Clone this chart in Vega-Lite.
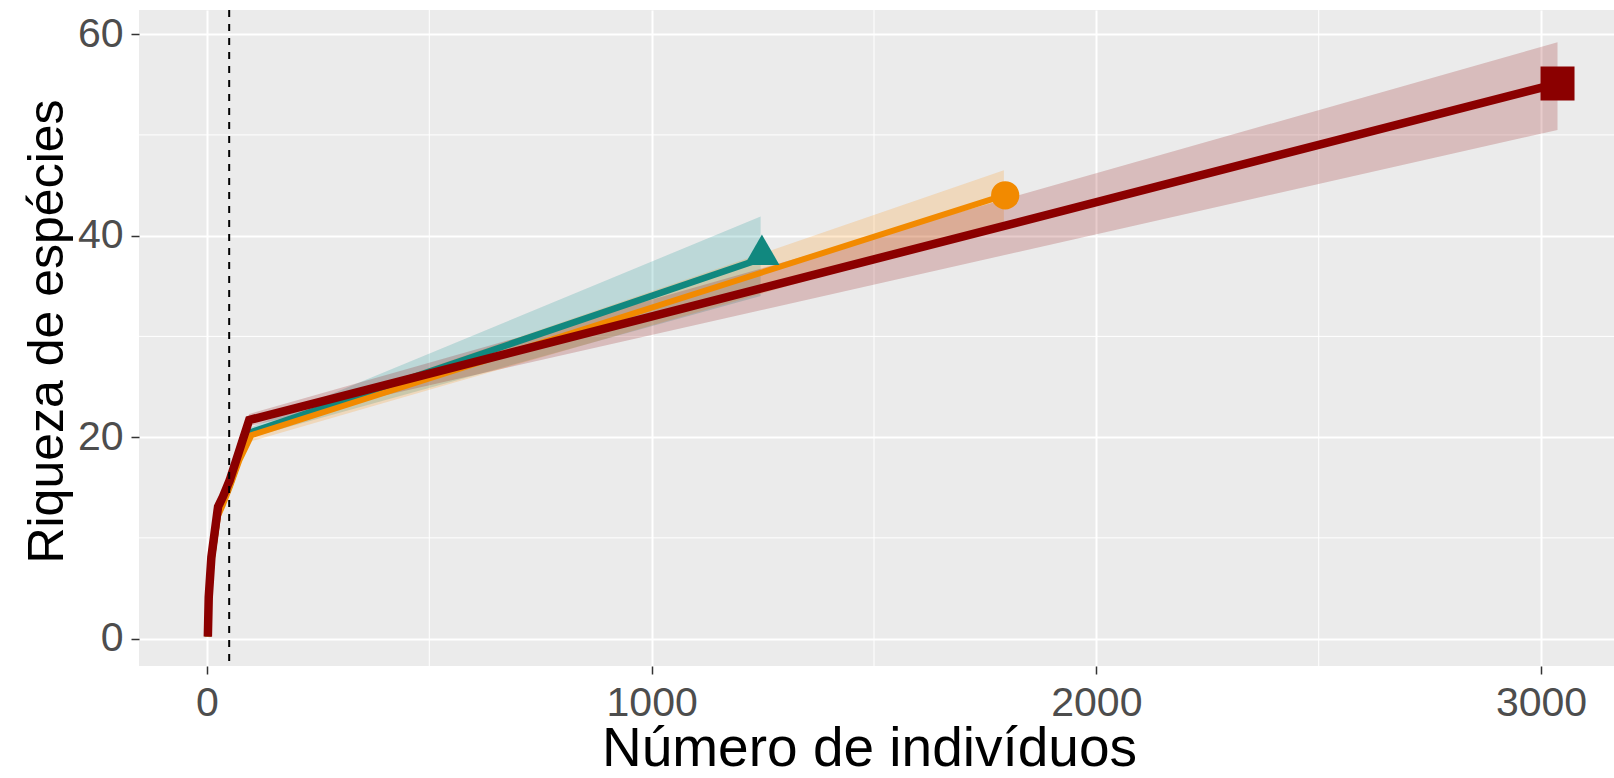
{
  "$schema": "https://vega.github.io/schema/vega-lite/v6.json",
  "width": 1475,
  "height": 656,
  "autosize": {"type": "none"},
  "padding": {"left": 139, "top": 10, "right": 0, "bottom": 112},
  "background": "white",
  "config": {
    "view": {"fill": "#EBEBEB", "stroke": null},
    "font": "Liberation Sans",
    "axis": {
      "domain": false, "grid": true, "gridColor": "white", "gridWidth": 2,
      "ticks": true, "tickColor": "#333333", "tickSize": 8, "tickWidth": 1.5,
      "labelFont": "Liberation Sans", "labelFontSize": 41, "labelColor": "#4D4D4D",
      "labelFlush": false, "labelOverlap": false,
      "titleFont": "Liberation Sans", "titleFontWeight": "normal", "titleColor": "black",
      "titleBaseline": "alphabetic", "titleAlign": "center"
    },
    "axisX": {"labelPadding": 9, "titleFontSize": 55, "titleX": 730, "titleY": 99, "format": "d"},
    "axisY": {"labelPadding": 8, "titleFontSize": 50, "titleX": -77, "titleY": 321, "titleAngle": 270, "format": "d"}
  },
  "datasets": {
    "curves": [
      {"s": "S1", "x": 2, "y": 0.2, "lo": 0.1, "hi": 0.3},
      {"s": "S1", "x": 4, "y": 4.0, "lo": 3.8, "hi": 4.2},
      {"s": "S1", "x": 10, "y": 7.8, "lo": 7.5, "hi": 8.1},
      {"s": "S1", "x": 25, "y": 12.5, "lo": 12.1, "hi": 12.9},
      {"s": "S1", "x": 36, "y": 13.6, "lo": 13.2, "hi": 14.0},
      {"s": "S1", "x": 51, "y": 15.2, "lo": 14.8, "hi": 15.6},
      {"s": "S1", "x": 73, "y": 18.0, "lo": 17.5, "hi": 18.5},
      {"s": "S1", "x": 100, "y": 20.5, "lo": 20.0, "hi": 21.0},
      {"s": "S1", "x": 1245, "y": 37.7, "lo": 34.0, "hi": 41.9},
      {"s": "S2", "x": 2, "y": 0.2, "lo": 0.1, "hi": 0.3},
      {"s": "S2", "x": 4, "y": 3.8, "lo": 3.6, "hi": 4.0},
      {"s": "S2", "x": 10, "y": 7.5, "lo": 7.2, "hi": 7.8},
      {"s": "S2", "x": 25, "y": 12.2, "lo": 11.8, "hi": 12.6},
      {"s": "S2", "x": 36, "y": 13.3, "lo": 12.9, "hi": 13.7},
      {"s": "S2", "x": 51, "y": 15.0, "lo": 14.6, "hi": 15.4},
      {"s": "S2", "x": 73, "y": 17.7, "lo": 17.2, "hi": 18.2},
      {"s": "S2", "x": 100, "y": 20.2, "lo": 19.6, "hi": 20.8},
      {"s": "S2", "x": 1792, "y": 44.0, "lo": 41.2, "hi": 46.5},
      {"s": "S3", "x": 2, "y": 0.2, "lo": 0.1, "hi": 0.3},
      {"s": "S3", "x": 4, "y": 4.1, "lo": 3.9, "hi": 4.3},
      {"s": "S3", "x": 10, "y": 8.1, "lo": 7.8, "hi": 8.4},
      {"s": "S3", "x": 25, "y": 13.1, "lo": 12.7, "hi": 13.5},
      {"s": "S3", "x": 36, "y": 14.1, "lo": 13.7, "hi": 14.5},
      {"s": "S3", "x": 51, "y": 15.7, "lo": 15.3, "hi": 16.1},
      {"s": "S3", "x": 73, "y": 18.7, "lo": 18.2, "hi": 19.2},
      {"s": "S3", "x": 95, "y": 21.7, "lo": 21.1, "hi": 22.3},
      {"s": "S3", "x": 3037, "y": 55.1, "lo": 50.5, "hi": 59.2}
    ],
    "obs": [
      {"s": "S1", "x": 1248, "y": 38.6},
      {"s": "S2", "x": 1795, "y": 44.0},
      {"s": "S3", "x": 3037, "y": 55.1}
    ],
    "gridx": [{"x": 500}, {"x": 1500}, {"x": 2500}],
    "gridy": [{"y": 10}, {"y": 30}, {"y": 50}],
    "ref": [{"x": 50}]
  },
  "layer": [
    {
      "data": {"name": "gridx"},
      "mark": {"type": "rule", "color": "white", "strokeWidth": 1},
      "encoding": {
        "x": {"field": "x", "type": "quantitative",
          "scale": {"domain": [-152.8, 3164], "nice": false, "zero": false},
          "axis": {"values": [0, 1000, 2000, 3000], "title": "Número de indivíduos"}}
      }
    },
    {
      "data": {"name": "gridy"},
      "mark": {"type": "rule", "color": "white", "strokeWidth": 1},
      "encoding": {
        "y": {"field": "y", "type": "quantitative",
          "scale": {"domain": [-2.72, 62.4], "nice": false, "zero": false},
          "axis": {"values": [0, 20, 40, 60], "title": "Riqueza de espécies"}}
      }
    },
    {
      "data": {"name": "curves"},
      "mark": {"type": "area", "fillOpacity": 0.2},
      "encoding": {
        "x": {"field": "x", "type": "quantitative", "axis": {"values": [0, 1000, 2000, 3000], "title": "Número de indivíduos"}},
        "y": {"field": "lo", "type": "quantitative", "axis": {"values": [0, 20, 40, 60], "title": "Riqueza de espécies"}},
        "y2": {"field": "hi"},
        "color": {"field": "s", "type": "nominal", "legend": null,
          "scale": {"domain": ["S1", "S2", "S3"], "range": ["#008B8B", "#FF8C00", "#8B0000"]}},
        "order": {"field": "s"}
      }
    },
    {
      "data": {"name": "curves"},
      "transform": [{"filter": "datum.s === 'S1'"}],
      "mark": {"type": "line", "color": "#11887F", "strokeWidth": 6.5},
      "encoding": {
        "x": {"field": "x", "type": "quantitative", "axis": {"values": [0, 1000, 2000, 3000], "title": "Número de indivíduos"}},
        "y": {"field": "y", "type": "quantitative", "axis": {"values": [0, 20, 40, 60], "title": "Riqueza de espécies"}}
      }
    },
    {
      "data": {"name": "curves"},
      "transform": [{"filter": "datum.s === 'S2'"}],
      "mark": {"type": "line", "color": "#F28A00", "strokeWidth": 6},
      "encoding": {
        "x": {"field": "x", "type": "quantitative", "axis": {"values": [0, 1000, 2000, 3000], "title": "Número de indivíduos"}},
        "y": {"field": "y", "type": "quantitative", "axis": {"values": [0, 20, 40, 60], "title": "Riqueza de espécies"}}
      }
    },
    {
      "data": {"name": "curves"},
      "transform": [{"filter": "datum.s === 'S3'"}],
      "mark": {"type": "line", "color": "#8B0000", "strokeWidth": 8.5},
      "encoding": {
        "x": {"field": "x", "type": "quantitative", "axis": {"values": [0, 1000, 2000, 3000], "title": "Número de indivíduos"}},
        "y": {"field": "y", "type": "quantitative", "axis": {"values": [0, 20, 40, 60], "title": "Riqueza de espécies"}}
      }
    },
    {
      "data": {"name": "ref"},
      "mark": {"type": "rule", "color": "black", "strokeWidth": 2, "strokeDash": [7, 7]},
      "encoding": {
        "x": {"field": "x", "type": "quantitative", "axis": {"values": [0, 1000, 2000, 3000], "title": "Número de indivíduos"}}
      }
    },
    {
      "data": {"name": "obs"},
      "transform": [{"filter": "datum.s === 'S1'"}],
      "mark": {"type": "point", "shape": "triangle-up", "filled": true, "opacity": 1, "color": "#11887F", "size": 1225},
      "encoding": {
        "x": {"field": "x", "type": "quantitative", "axis": {"values": [0, 1000, 2000, 3000], "title": "Número de indivíduos"}},
        "y": {"field": "y", "type": "quantitative", "axis": {"values": [0, 20, 40, 60], "title": "Riqueza de espécies"}}
      }
    },
    {
      "data": {"name": "obs"},
      "transform": [{"filter": "datum.s === 'S2'"}],
      "mark": {"type": "point", "shape": "circle", "filled": true, "opacity": 1, "color": "#F28A00", "size": 800},
      "encoding": {
        "x": {"field": "x", "type": "quantitative", "axis": {"values": [0, 1000, 2000, 3000], "title": "Número de indivíduos"}},
        "y": {"field": "y", "type": "quantitative", "axis": {"values": [0, 20, 40, 60], "title": "Riqueza de espécies"}}
      }
    },
    {
      "data": {"name": "obs"},
      "transform": [{"filter": "datum.s === 'S3'"}],
      "mark": {"type": "point", "shape": "square", "filled": true, "opacity": 1, "color": "#8B0000", "size": 1156},
      "encoding": {
        "x": {"field": "x", "type": "quantitative", "axis": {"values": [0, 1000, 2000, 3000], "title": "Número de indivíduos"}},
        "y": {"field": "y", "type": "quantitative", "axis": {"values": [0, 20, 40, 60], "title": "Riqueza de espécies"}}
      }
    }
  ]
}
